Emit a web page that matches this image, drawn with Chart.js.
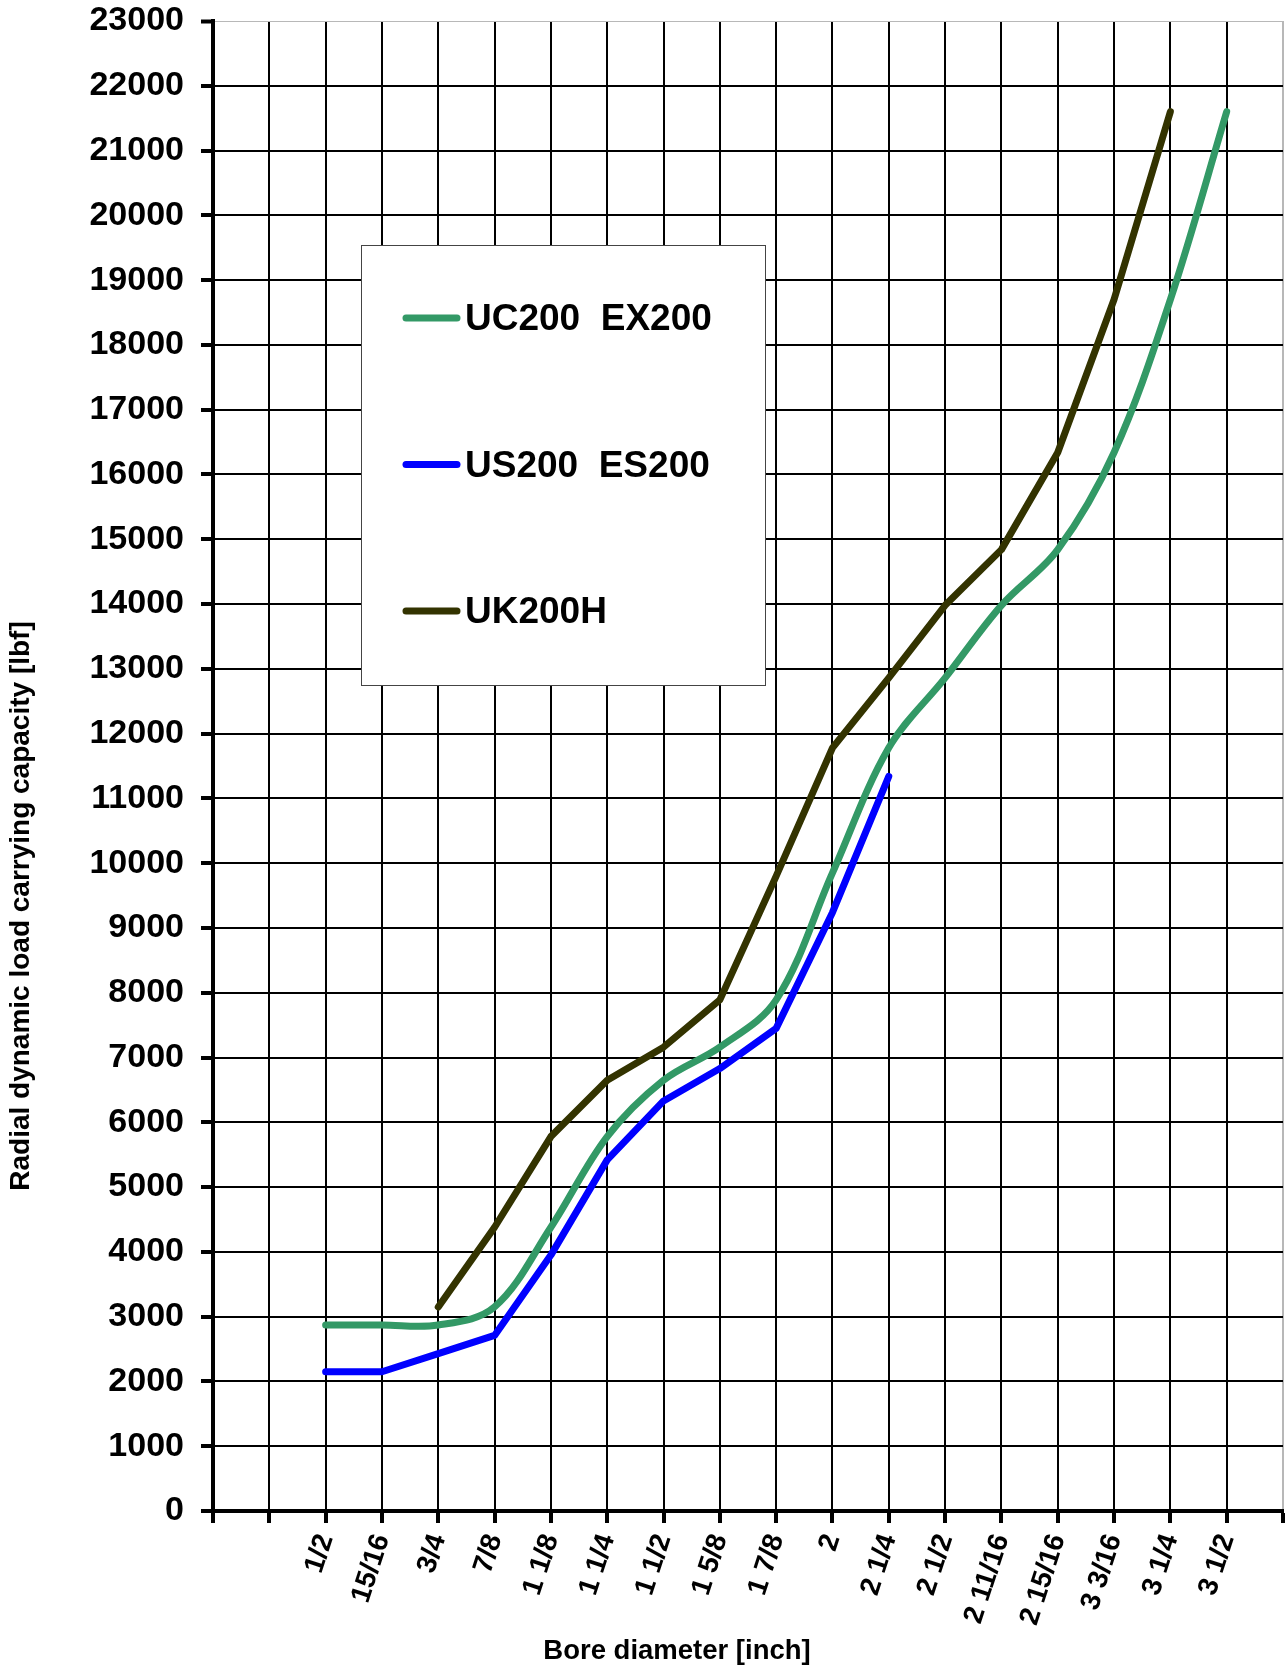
<!DOCTYPE html>
<html>
<head>
<meta charset="utf-8">
<script src="https://cdn.jsdelivr.net/npm/chart.js@4.4.0/dist/chart.umd.min.js"></script>
<style>
  body { margin: 0; background: #fff; }
  canvas { display: block; }
</style>
</head>
<body>
<canvas id="myChart" width="1285" height="1669"></canvas>
<script>
// bore sizes, two blank slots before and one after so the grid runs on
var boreLabels = ['', '', '1/2', '15/16', '3/4', '7/8', '1 1/8', '1 1/4', '1 1/2', '1 5/8', '1 7/8',
                  '2', '2 1/4', '2 1/2', '2 11/16', '2 15/16', '3 3/16', '3 1/4', '3 1/2', ''];

// radial dynamic load ratings [lbf]
var ucEx200 = [null, null, 2870, 2870, 2870, 3150, 4380, 5780, 6650, 7160, 7890,
               9850, 11780, 12860, 13980, 14840, 16340, 18700, 21600, null];
var usEs200 = [null, null, 2150, 2150, 2430, 2710, 3950, 5420, 6330, 6830, 7450,
               9240, 11340, null, null, null, null, null, null, null];
var uk200h  = [null, null, null, null, 3150, 4380, 5780, 6650, 7160, 7890, 9800,
               11780, 12860, 13980, 14840, 16340, 18700, 21600, null, null];

var seriesNames = ['UC200  EX200', 'US200  ES200', 'UK200H'];
var yMax = 23000;
var yStep = 1000;
var xTitle = 'Bore diameter [inch]';
var yTitle = 'Radial dynamic load carrying capacity [lbf]';

var FONT = '"Liberation Sans", Arial, sans-serif';
Chart.defaults.font.family = FONT;
Chart.defaults.font.weight = 'bold';
Chart.defaults.color = '#000';

// legend box sitting inside the plot
var boxLegend = {
  id: 'boxLegend',
  afterDraw: function(chart) {
    var c = chart.ctx;
    c.save();
    c.fillStyle = '#fff';
    c.fillRect(361, 245, 404, 440);
    c.strokeStyle = '#444';
    c.lineWidth = 1;
    c.strokeRect(361.5, 245.5, 404, 440);
    c.font = 'bold 37px ' + FONT;
    c.textBaseline = 'middle';
    chart.data.datasets.forEach(function(ds, i) {
      var y = 318 + i * 146.5;
      c.strokeStyle = ds.borderColor;
      c.lineWidth = 7;
      c.lineCap = 'round';
      c.beginPath();
      c.moveTo(406, y);
      c.lineTo(457, y);
      c.stroke();
      c.fillStyle = '#000';
      c.fillText(ds.label, 465, y + 2);
    });
    c.restore();
  }
};

// axis titles, placed where they sit on the sheet
var axisTitles = {
  id: 'axisTitles',
  afterDraw: function(chart) {
    var c = chart.ctx;
    c.save();
    c.fillStyle = '#000';
    c.textAlign = 'center';
    c.textBaseline = 'middle';
    c.font = 'bold 27.5px ' + FONT;
    c.fillText(xTitle, 677, 1651);
    c.font = 'bold 28px ' + FONT;
    c.translate(21, 906);
    c.rotate(-Math.PI / 2);
    c.fillText(yTitle, 0, 0);
    c.restore();
  }
};

var ctx = document.getElementById('myChart');
var config = {
  type: 'line',
  data: {
    labels: boreLabels,
    datasets: [
      { label: seriesNames[0], data: ucEx200, borderColor: '#339966', borderWidth: 7, tension: 0.35 },
      { label: seriesNames[1], data: usEs200, borderColor: '#0000ff', borderWidth: 7, tension: 0 },
      { label: seriesNames[2], data: uk200h,  borderColor: '#333300', borderWidth: 7, tension: 0 }
    ]
  },
  options: {
    responsive: false,
    animation: false,
    layout: { padding: { top: 21, right: 2, left: 0, bottom: 0 } },
    elements: {
      point: { radius: 0 },
      line: { borderCapStyle: 'round', borderJoinStyle: 'round', fill: false }
    },
    plugins: {
      legend: { display: false },
      tooltip: { enabled: false }
    },
    scales: {
      x: {
        offset: false,
        afterFit: function(s) { s.height = 158; s.paddingLeft = 0; s.paddingRight = 0; },
        grid: {
          color: function(c) { return c.index === boreLabels.length - 1 ? '#b8b8b8' : '#000'; },
          lineWidth: 2,
          tickLength: 12,
          tickWidth: 4,
          tickColor: '#000'
        },
        border: { color: '#000', width: 4 },
        ticks: {
          autoSkip: false,
          minRotation: 72,
          maxRotation: 72,
          padding: 7,
          font: { size: 28, weight: 'bold' }
        }
      },
      y: {
        min: 0,
        max: yMax,
        afterFit: function(s) { s.width = 213; s.paddingTop = 0; s.paddingBottom = 0; },
        grid: {
          color: function(c) { return c.tick && c.tick.value === yMax ? '#b8b8b8' : '#000'; },
          lineWidth: function(c) { return c.tick && c.tick.value === yMax ? 1 : 2; },
          tickLength: 12,
          tickWidth: 4,
          tickColor: '#000'
        },
        border: { color: '#000', width: 4 },
        ticks: {
          stepSize: yStep,
          padding: 17,
          font: { size: 34, weight: 'bold' },
          callback: function(v) { return String(v); }
        }
      }
    }
  },
  plugins: [boxLegend, axisTitles]
};
var myChart = new Chart(ctx, config);
</script>
</body>
</html>
